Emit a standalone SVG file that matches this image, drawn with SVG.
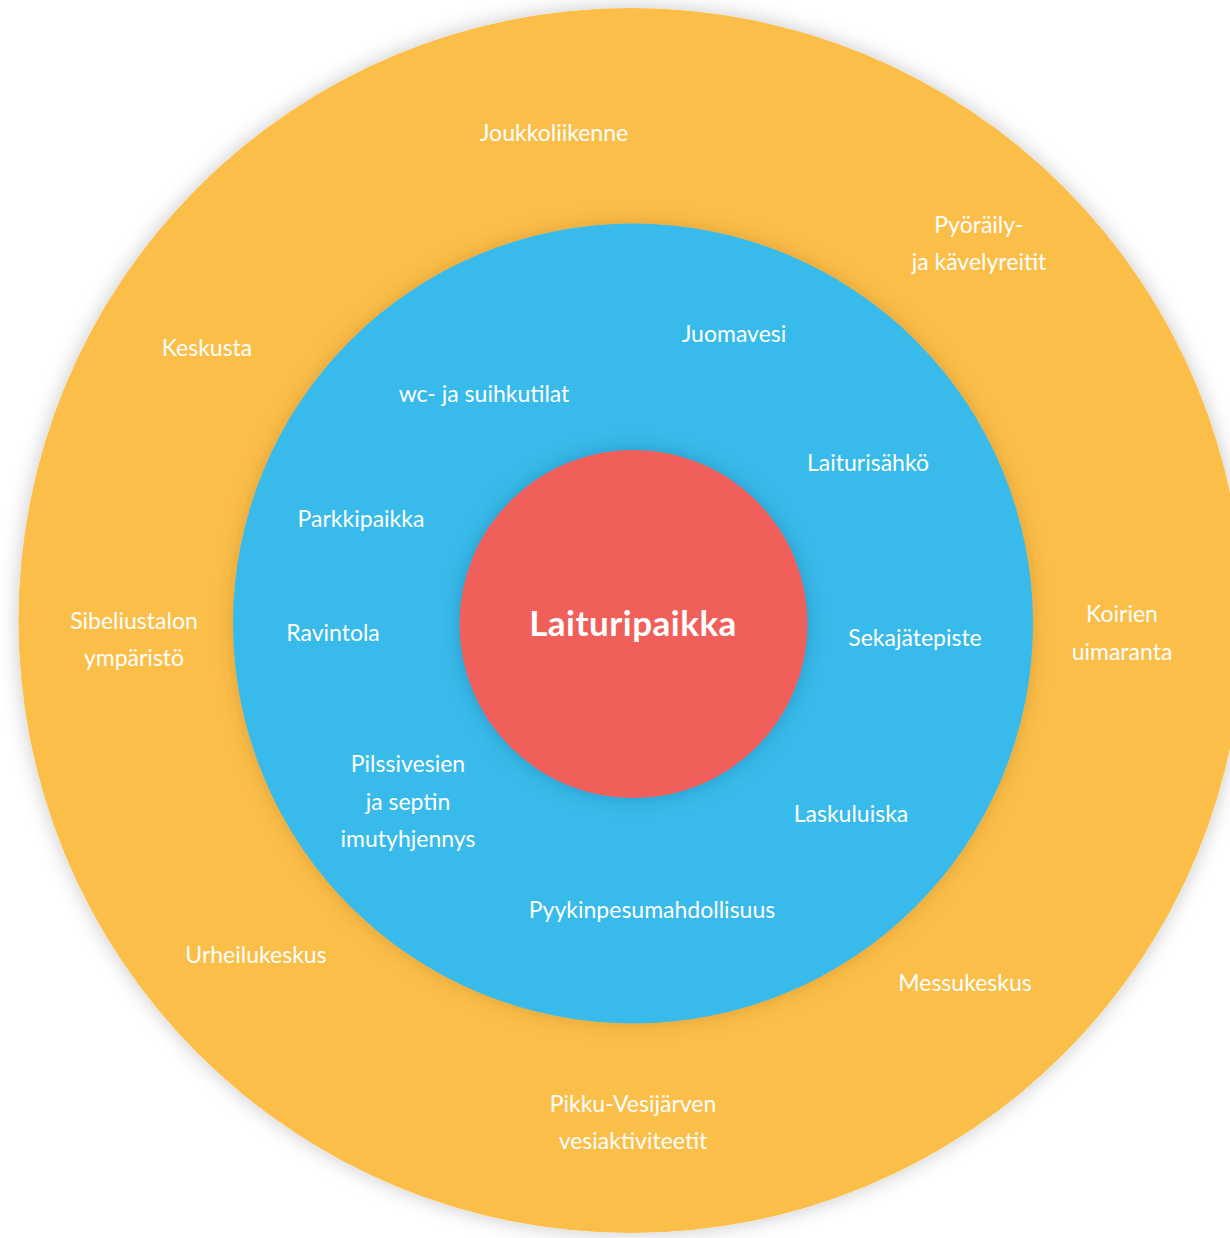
<svg xmlns="http://www.w3.org/2000/svg" width="1230" height="1238" viewBox="0 0 1230 1238">
<defs>
<filter id="shOuter" x="-10%" y="-10%" width="120%" height="120%">
<feDropShadow dx="0" dy="0" stdDeviation="10" flood-color="#000" flood-opacity="0.22"/>
</filter>
<filter id="shInner" x="-10%" y="-10%" width="120%" height="120%">
<feDropShadow dx="0" dy="0" stdDeviation="9" flood-color="#7a4a00" flood-opacity="0.25"/>
</filter>
<filter id="shCore" x="-15%" y="-15%" width="130%" height="130%">
<feDropShadow dx="0" dy="0" stdDeviation="9" flood-color="#0a4a70" flood-opacity="0.3"/>
</filter>
</defs>
<style>
.lbl{font-family:"Lato","Liberation Sans",sans-serif;font-size:23px;fill:#ffffff;text-anchor:middle;}
.core{font-family:"Lato","Liberation Sans",sans-serif;font-size:35px;font-weight:bold;fill:#ffffff;text-anchor:middle;letter-spacing:0.5px;}
</style>
<rect width="1230" height="1238" fill="#ffffff"/>
<g id="outer-ring">
<circle cx="631" cy="620.5" r="612.5" fill="#FBBE48" filter="url(#shOuter)"/>
</g>
<g id="middle-ring">
<circle cx="633" cy="623.5" r="400" fill="#38BAEA" filter="url(#shInner)"/>
</g>
<g id="core">
<circle cx="633.5" cy="624" r="174" fill="#F05F5A" filter="url(#shCore)"/>
<text class="core" x="633" y="636">Laituripaikka</text>
</g>
<g id="connectors"></g>
<g id="outer-labels">
<g id="n-joukkoliikenne"><text class="lbl" x="554" y="141">Joukkoliikenne</text></g>
<g id="n-pyoraily"><text class="lbl" x="979" y="233">Pyöräily-</text><text class="lbl" x="979" y="270">ja kävelyreitit</text></g>
<g id="n-keskusta"><text class="lbl" x="207" y="356">Keskusta</text></g>
<g id="n-sibelius"><text class="lbl" x="134" y="629">Sibeliustalon</text><text class="lbl" x="134" y="666">ympäristö</text></g>
<g id="n-koirien"><text class="lbl" x="1122" y="622">Koirien</text><text class="lbl" x="1122" y="660">uimaranta</text></g>
<g id="n-urheilu"><text class="lbl" x="256" y="963">Urheilukeskus</text></g>
<g id="n-messu"><text class="lbl" x="965" y="991">Messukeskus</text></g>
<g id="n-pikku"><text class="lbl" x="633" y="1112">Pikku-Vesijärven</text><text class="lbl" x="633" y="1149">vesiaktiviteetit</text></g>
</g>
<g id="middle-labels">
<g id="n-juomavesi"><text class="lbl" x="734" y="342">Juomavesi</text></g>
<g id="n-wc"><text class="lbl" x="484" y="402">wc- ja suihkutilat</text></g>
<g id="n-laiturisahko"><text class="lbl" x="868" y="471">Laiturisähkö</text></g>
<g id="n-parkki"><text class="lbl" x="361" y="527">Parkkipaikka</text></g>
<g id="n-ravintola"><text class="lbl" x="333" y="641">Ravintola</text></g>
<g id="n-sekajate"><text class="lbl" x="915" y="646">Sekajätepiste</text></g>
<g id="n-pilssi"><text class="lbl" x="408" y="772">Pilssivesien</text><text class="lbl" x="408" y="810">ja septin</text><text class="lbl" x="408" y="847">imutyhjennys</text></g>
<g id="n-laskuluiska"><text class="lbl" x="851" y="822">Laskuluiska</text></g>
<g id="n-pyykki"><text class="lbl" x="652" y="918">Pyykinpesumahdollisuus</text></g>
</g>
</svg>
